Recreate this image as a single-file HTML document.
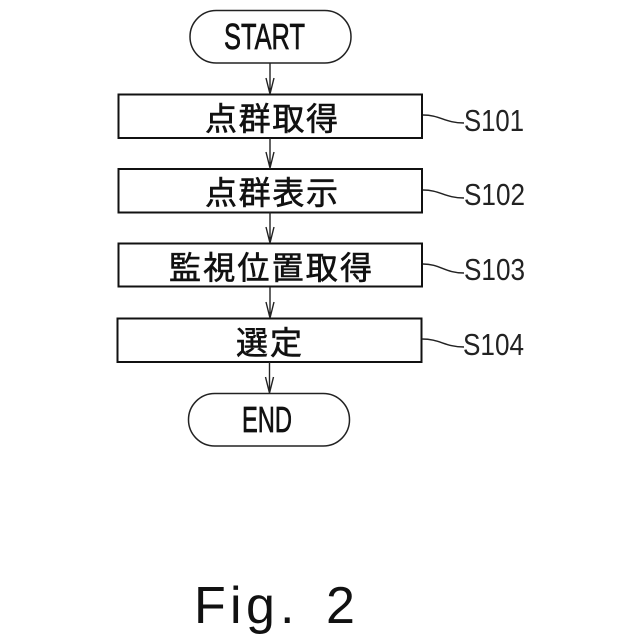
<!DOCTYPE html>
<html>
<head>
<meta charset="utf-8">
<style>
html,body{margin:0;padding:0;background:#fff;width:640px;height:640px;overflow:hidden}
svg{display:block}
.l{font-family:"Liberation Sans",sans-serif;fill:#111}
.b{stroke:#111;stroke-width:.7}
.c{font-family:"Liberation Sans","Noto Sans CJK JP",sans-serif;fill:#111;font-size:32px;stroke:#111;stroke-width:.6}
.s{font-family:"Liberation Sans",sans-serif;fill:#222;font-size:31px}
</style>
</head>
<body>
<svg width="640" height="640" viewBox="0 0 640 640" xmlns="http://www.w3.org/2000/svg">
<g fill="none" stroke="#222" stroke-width="1.5">
<rect x="190" y="10.5" width="161" height="52.5" rx="26.2"/>
<rect x="188.5" y="393.5" width="161" height="52.5" rx="26.2"/>
</g>
<g fill="none" stroke="#111" stroke-width="2">
<rect x="118.500" y="94.500" width="303.500" height="43.500"/>
<rect x="118.500" y="169" width="303.500" height="43.500"/>
<rect x="118.500" y="243.500" width="303.500" height="43"/>
<rect x="117.500" y="318.500" width="304" height="43.500"/>
</g>
<g fill="none" stroke="#222" stroke-width="1.4">
<path d="M270 63V94M266 78L270 94L274 78"/>
<path d="M270 138V169M266 152L270 168L274 152"/>
<path d="M270 212V243M266 227L270 243L274 227"/>
<path d="M270 287V318M266 302L270 318L274 302"/>
<path d="M269.500 362V393M265.500 377L269.500 393L273.500 377"/>
<path d="M423 115C440 115 445 123 464 123"/>
<path d="M423 190C440 190 445 198 464 198"/>
<path d="M423 264C440 264 445 273 464 273"/>
<path d="M422 339C440 339 445 347 464 347"/>
</g>
<text class="l b" x="224" y="49" font-size="36" textLength="81" lengthAdjust="spacingAndGlyphs">START</text>
<text class="l b" x="242" y="432" font-size="36" textLength="50" lengthAdjust="spacingAndGlyphs">END</text>
<text class="c" x="205" y="130" textLength="133" lengthAdjust="spacing">点群取得</text>
<text class="c" x="205" y="204" textLength="133" lengthAdjust="spacing">点群表示</text>
<text class="c" x="169" y="279" textLength="203" lengthAdjust="spacing">監視位置取得</text>
<text class="c" x="236" y="354" textLength="66" lengthAdjust="spacing">選定</text>
<text class="s" x="464" y="131" textLength="60" lengthAdjust="spacingAndGlyphs">S101</text>
<text class="s" x="464" y="205" textLength="61" lengthAdjust="spacingAndGlyphs">S102</text>
<text class="s" x="464" y="280" textLength="61" lengthAdjust="spacingAndGlyphs">S103</text>
<text class="s" x="463" y="355" textLength="61" lengthAdjust="spacingAndGlyphs">S104</text>
<text class="l" y="623" font-size="52" x="194 230 246 280 300 326">Fig. 2</text>
</svg>
</body>
</html>
